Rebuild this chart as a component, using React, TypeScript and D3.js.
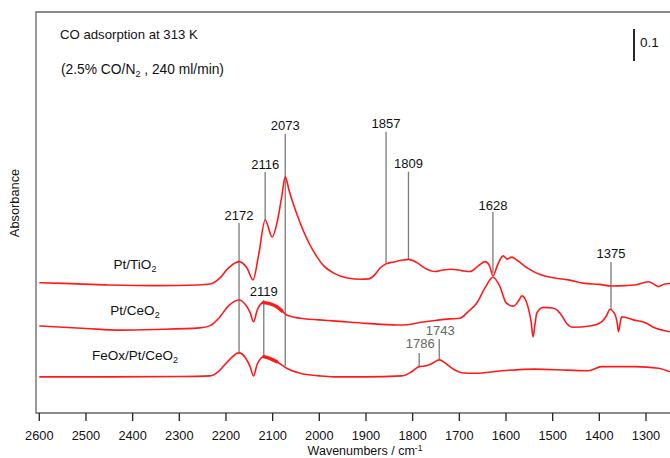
import React from 'react';
import * as d3 from 'd3';

// ---------- data ----------
const xTicks = [2600, 2500, 2400, 2300, 2200, 2100, 2000, 1900, 1800, 1700, 1600, 1500, 1400, 1300];

const tiWn = [2600, 2550, 2450, 2350, 2260, 2234, 2215, 2195, 2172, 2155, 2142, 2130, 2116, 2101, 2089, 2080, 2073, 2065, 2055, 2041, 2020, 2005, 1990, 1970, 1940, 1910, 1895, 1880, 1870, 1857, 1840, 1820, 1809, 1790, 1773, 1752, 1735, 1716, 1695, 1677, 1660, 1645, 1635, 1628, 1618, 1606, 1597, 1588, 1577, 1553, 1524, 1495, 1467, 1431, 1400, 1374, 1345, 1324, 1295, 1280, 1274, 1260, 1245];
const tiAbs = [0.407, 0.405, 0.400, 0.398, 0.400, 0.403, 0.419, 0.453, 0.473, 0.453, 0.416, 0.494, 0.603, 0.550, 0.606, 0.681, 0.738, 0.697, 0.650, 0.594, 0.525, 0.488, 0.459, 0.438, 0.422, 0.418, 0.419, 0.434, 0.453, 0.466, 0.472, 0.478, 0.480, 0.469, 0.452, 0.442, 0.447, 0.449, 0.445, 0.442, 0.459, 0.473, 0.459, 0.429, 0.463, 0.491, 0.481, 0.487, 0.478, 0.452, 0.431, 0.422, 0.416, 0.405, 0.402, 0.397, 0.398, 0.400, 0.410, 0.400, 0.395, 0.403, 0.405];

const ceWn = [2600, 2500, 2427, 2350, 2256, 2234, 2215, 2195, 2172, 2158, 2148, 2141, 2133, 2120, 2105, 2091, 2080, 2070, 2041, 2000, 1970, 1898, 1834, 1823, 1800, 1788, 1752, 1720, 1699, 1681, 1663, 1645, 1628, 1613, 1599, 1584, 1572, 1566, 1558, 1552, 1546, 1542, 1538, 1534, 1520, 1500, 1491, 1480, 1470, 1456, 1420, 1395, 1385, 1377, 1370, 1366, 1362, 1359, 1355, 1352, 1327, 1300, 1284, 1249];
const ceAbs = [0.272, 0.264, 0.259, 0.261, 0.266, 0.273, 0.297, 0.334, 0.353, 0.338, 0.313, 0.285, 0.322, 0.345, 0.341, 0.332, 0.319, 0.306, 0.296, 0.291, 0.288, 0.280, 0.275, 0.275, 0.278, 0.282, 0.289, 0.294, 0.296, 0.317, 0.343, 0.391, 0.424, 0.395, 0.343, 0.334, 0.353, 0.366, 0.353, 0.327, 0.284, 0.238, 0.275, 0.312, 0.330, 0.328, 0.322, 0.303, 0.280, 0.268, 0.272, 0.285, 0.303, 0.324, 0.316, 0.306, 0.284, 0.254, 0.284, 0.301, 0.291, 0.281, 0.268, 0.254];

const feWn = [2600, 2450, 2300, 2234, 2215, 2195, 2172, 2158, 2148, 2141, 2133, 2119, 2105, 2091, 2070, 2041, 2000, 1970, 1900, 1823, 1802, 1786, 1775, 1766, 1755, 1743, 1730, 1716, 1695, 1666, 1609, 1538, 1470, 1424, 1395, 1324, 1273, 1249];
const feAbs = [0.113, 0.113, 0.114, 0.116, 0.131, 0.163, 0.188, 0.172, 0.144, 0.116, 0.153, 0.176, 0.170, 0.160, 0.140, 0.124, 0.116, 0.113, 0.113, 0.116, 0.129, 0.145, 0.147, 0.150, 0.158, 0.166, 0.156, 0.140, 0.126, 0.124, 0.132, 0.137, 0.134, 0.132, 0.145, 0.145, 0.140, 0.129];

const peakValues = [2172, 2116, 2073, 2119, 1857, 1809, 1628, 1375, 1786, 1743];
const peakLabels = ['2172', '2116', '2073', '2119', '1857', '1809', '1628', '1375', '1786', '1743'];

// ---------- layout ----------
const W = 670, H = 458;
const X0 = 39.3, X1 = 646; // pixel of 2600 and 1300
const Y0 = 413, Y1 = 13;
// annotation label baseline, line top, line bottom (absorbance units), muted colour
const peakLayout = [
  [0.603, 0.594, 0.188, false],
  [0.763, 0.753, 0.603, false],
  [0.884, 0.873, 0.147, false],
  [0.366, 0.353, 0.175, false],
  [0.891, 0.879, 0.466, false],
  [0.766, 0.754, 0.480, false],
  [0.634, 0.628, 0.4375, false],
  [0.484, 0.472, 0.325, false],
  [0.203, 0.1875, 0.145, true],
  [0.244, 0.231, 0.166, true],
] as const;

const RED = '#ff1a1a';
const FONT = '"Liberation Sans", Arial, Helvetica, sans-serif';

export default function App() {
  const x = d3.scaleLinear().domain([2600, 1300]).range([X0, X1]);
  const y = d3.scaleLinear().domain([0, 1.25]).range([Y0, Y1]);
  const line = d3
    .line<[number, number]>()
    .x((d) => x(d[0]))
    .y((d) => y(d[1]))
    .curve(d3.curveMonotoneX);

  const zip = (a: number[], b: number[]) => a.map((v, i) => [v, b[i]] as [number, number]);
  const series = [zip(tiWn, tiAbs), zip(ceWn, ceAbs), zip(feWn, feAbs)];
  const noisy = [series[1], series[2]].map((s) => s.filter((d) => d[0] <= 2128 && d[0] >= 2076));

  return (
    <svg width={W} height={H} style={{ position: 'absolute', left: 0, top: 0, background: '#fff' }} fontFamily={FONT}>
      <defs>
        <clipPath id="plot">
          <rect x={36} y={12} width={W - 36} height={Y0 - 12} />
        </clipPath>
      </defs>
      {/* frame */}
      <path d={`M${W + 5},12 H36 V${Y0} H${W + 5}`} fill="none" stroke="#666" strokeWidth={1.3} />
      {/* ticks */}
      {xTicks.map((t) => (
        <g key={t}>
          <line x1={x(t)} x2={x(t)} y1={Y0} y2={Y0 + 8} stroke="#222" strokeWidth={1.3} />
          <text x={x(t)} y={440} fontSize={12.8} textAnchor="middle" fill="#111">
            {t}
          </text>
        </g>
      ))}
      <text x={365} y={455} fontSize={12.5} textAnchor="middle" fill="#111">
        Wavenumbers / cm
        <tspan fontSize={8.5} dy={-4}>-1</tspan>
      </text>
      <text transform="translate(19,203) rotate(-90)" fontSize={12.8} textAnchor="middle" fill="#111">
        Absorbance
      </text>

      {/* header text */}
      <text x={60} y={39} fontSize={13.2} fill="#111">CO adsorption at 313 K</text>
      <text x={61} y={74} fontSize={13.8} fill="#111">
        (2.5% CO/N<tspan fontSize={9} dy={3}>2</tspan>
        <tspan dy={-3}> , 240 ml/min)</tspan>
      </text>

      {/* scale bar */}
      <line x1={634} x2={634} y1={y(1.2)} y2={y(1.1)} stroke="#111" strokeWidth={1.8} />
      <text x={640} y={47} fontSize={13.5} fill="#111">0.1</text>

      {/* annotation lines */}
      {peakValues.map((v, i) => {
        const [lab, top, bot, muted] = peakLayout[i];
        return (
          <g key={peakLabels[i]}>
            <line x1={x(v)} x2={x(v)} y1={y(top)} y2={y(bot)} stroke="#7a7a7a" strokeWidth={1.3} />
            <text x={x(v) + (muted ? 1 : 0)} y={y(lab)} fontSize={13} textAnchor="middle" fill={muted ? '#666' : '#111'}>
              {peakLabels[i]}
            </text>
          </g>
        );
      })}

      {/* spectra */}
      <g clipPath="url(#plot)">
        {series.map((s, i) => (
          <path key={i} d={line(s) ?? ''} fill="none" stroke={RED} strokeWidth={1.6} strokeLinejoin="round" />
        ))}
        {noisy.map((s, i) => (
          <path key={'n' + i} d={line(s) ?? ''} fill="none" stroke={RED} strokeWidth={3.4} strokeLinecap="round" />
        ))}
      </g>

      {/* series labels */}
      <text x={135} y={269} fontSize={13.5} textAnchor="middle" fill="#111">
        Pt/TiO<tspan fontSize={9} dy={3}>2</tspan>
      </text>
      <text x={135} y={315} fontSize={13.5} textAnchor="middle" fill="#111">
        Pt/CeO<tspan fontSize={9} dy={3}>2</tspan>
      </text>
      <text x={135} y={360} fontSize={13.5} textAnchor="middle" fill="#111">
        FeOx/Pt/CeO<tspan fontSize={9} dy={3}>2</tspan>
      </text>
    </svg>
  );
}
